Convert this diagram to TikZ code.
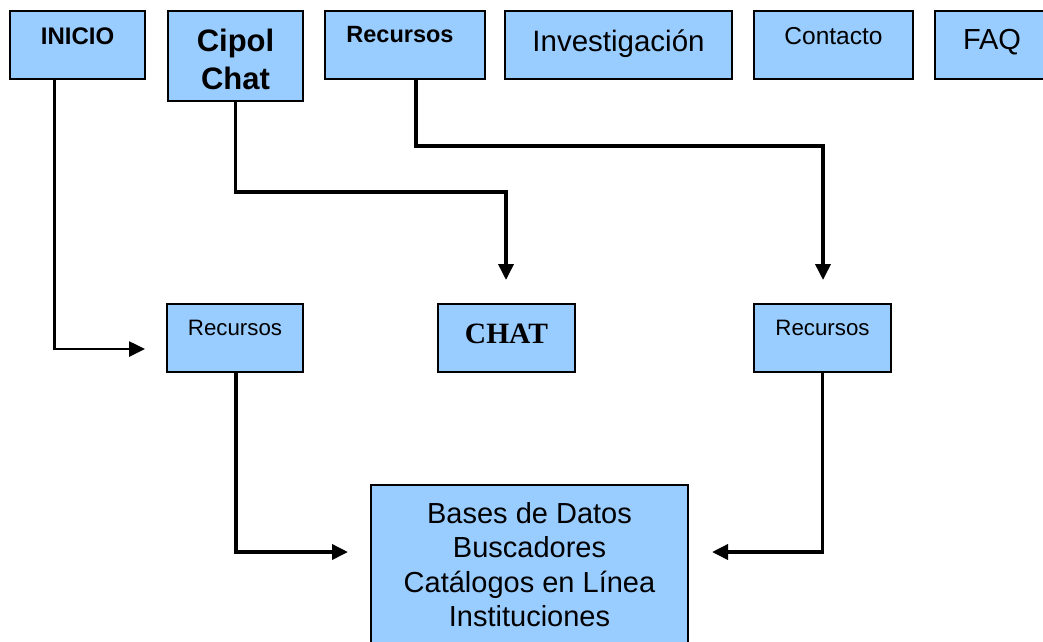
\documentclass[tikz,border=0pt]{standalone}
\usepackage{fontspec}
\setmainfont{Liberation Sans}
\newfontfamily\timesfont{Liberation Serif}
\usetikzlibrary{arrows.meta}
\definecolor{boxblue}{RGB}{153,204,255}
\tikzset{
  box/.style={draw=black, fill=boxblue, line width=1.8pt, inner sep=0pt, rectangle},
  txt/.style={inner sep=0pt, anchor=base, text=black},
  conn/.style={draw=black, line width=3.6pt, -{Triangle[length=16pt,width=15pt]}},
  thinconn/.style={draw=black, line width=2.6pt, -{Triangle[length=16pt,width=15pt]}}
}
\begin{document}
\begin{tikzpicture}[x=1pt,y=-1pt]
\useasboundingbox (0,0) rectangle (1043,641);
\clip (0,0) rectangle (1043,641);
\fill[white] (0,0) rectangle (1043,641);
% top row boxes
\node[box, minimum width=135pt, minimum height=68pt] (inicio) at (77.5,45) {};
\node[box, minimum width=135pt, minimum height=90pt] (cipol) at (235.5,56) {};
\node[box, minimum width=160pt, minimum height=68pt] (recT) at (405,45) {};
\node[box, minimum width=227pt, minimum height=68pt] (inv) at (618.5,45) {};
\node[box, minimum width=159pt, minimum height=68pt] (cont) at (833.5,45) {};
\node[box, minimum width=115pt, minimum height=68pt] (faq) at (992.5,45) {};
% middle row
\node[box, minimum width=136pt, minimum height=68pt] (recL) at (235,338) {};
\node[box, minimum width=137pt, minimum height=68pt] (chat) at (506.5,338) {};
\node[box, minimum width=137pt, minimum height=68pt] (recR) at (822.5,338) {};
% bottom
\node[box, minimum width=317pt, minimum height=180pt] (bases) at (529.5,575) {};
% texts
\node[txt, font=\bfseries\fontsize{24}{28}\selectfont] (inicioT) at (77.5,44) {INICIO};
\node[txt, font=\bfseries\fontsize{31}{38}\selectfont, align=center] (cipolT) at (235.5,89) {Cipol\\Chat};
\node[txt, font=\bfseries\fontsize{23.5}{28}\selectfont] (recTT) at (400,42) {Recursos};
\node[txt, font=\fontsize{29.5}{34}\selectfont] (invT) at (618.5,51) {Investigación};
\node[txt, font=\fontsize{24.5}{28}\selectfont] (contT) at (833.5,44) {Contacto};
\node[txt, font=\fontsize{29}{34}\selectfont] (faqT) at (992,49) {FAQ};
\node[txt, font=\fontsize{22.3}{26}\selectfont] (recLT) at (235,335) {Recursos};
\node[txt, font=\timesfont\bfseries\fontsize{29.5}{34}\selectfont] (chatT) at (506.5,343) {CHAT};
\node[txt, font=\fontsize{22.3}{26}\selectfont] (recRT) at (822.5,335) {Recursos};
\node[txt, font=\fontsize{29}{34.5}\selectfont, align=center] (basesT) at (529.5,626.5) {Bases de Datos\\Buscadores\\Catálogos en Línea\\Instituciones};
% arrow end points and bends
\coordinate (a1) at (145,349);
\coordinate (b2) at (506,192);
\coordinate (a2) at (506,280);
\coordinate (b3) at (823,146);
\coordinate (a3) at (823,280);
\coordinate (a4) at (348,552);
\coordinate (a5) at (712,552);
% connectors
\draw[thinconn] ([xshift=-23pt]inicio.south) |- (a1);
\draw[conn] (cipol.south) |- (b2) -- (a2);
\draw[conn] ([xshift=11pt]recT.south) |- (b3) -- (a3);
\draw[conn] ([xshift=1pt]recL.south) |- (a4);
\draw[conn] (recR.south) |- (a5);
\end{tikzpicture}
\end{document}
